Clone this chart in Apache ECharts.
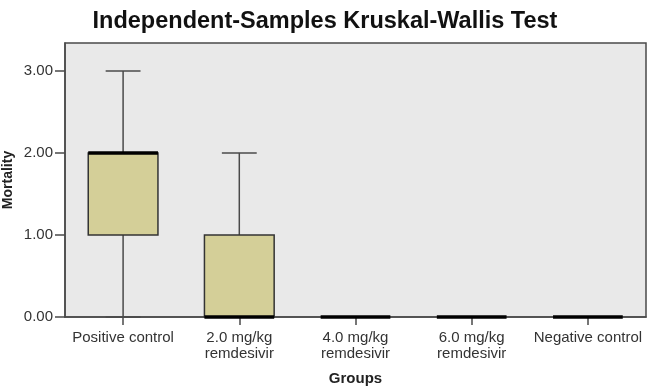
<!DOCTYPE html>
<html>
<head>
<meta charset="utf-8">
<script src="https://cdn.jsdelivr.net/npm/echarts@6/dist/echarts.min.js"></script>
<style>
  html, body { margin: 0; padding: 0; background: #fff; }
  #chart { width: 650px; height: 389px; }
</style>
</head>
<body>
<div id="chart"></div>
<script>
// groups on the x axis
var categories = ["Positive control", "2.0 mg/kg\nremdesivir", "4.0 mg/kg\nremdesivir", "6.0 mg/kg\nremdesivir", "Negative control"];
// box plot values
var minVals = [0, 0, 0, 0, 0];
var q1Vals = [1, 0, 0, 0, 0];
var medianVals = [2, 0, 0, 0, 0];
var q3Vals = [2, 1, 0, 0, 0];
var maxVals = [3, 2, 0, 0, 0];

var FONT = "Liberation Sans";
var boxData = categories.map(function (c, i) {
  return [i, minVals[i], q1Vals[i], medianVals[i], q3Vals[i], maxVals[i]];
});

var chart = echarts.init(document.getElementById("chart"));

function renderBox(params, api) {
  var idx = api.value(0);
  var pMin = api.coord([idx, api.value(1)]);
  var pQ1 = api.coord([idx, api.value(2)]);
  var pMed = api.coord([idx, api.value(3)]);
  var pQ3 = api.coord([idx, api.value(4)]);
  var pMax = api.coord([idx, api.value(5)]);
  var x = pMed[0];
  var bw = api.size([1, 0])[0] * 0.6;
  var cw = bw / 2;
  var line = { stroke: "#4a4a4a", lineWidth: 1.5 };
  var children = [];
  if (api.value(5) > api.value(4)) {
    children.push({ type: "line", shape: { x1: x, y1: pQ3[1], x2: x, y2: pMax[1] }, style: line });
    children.push({ type: "line", shape: { x1: x - cw / 2, y1: pMax[1], x2: x + cw / 2, y2: pMax[1] }, style: line });
  }
  if (api.value(1) < api.value(2)) {
    children.push({ type: "line", shape: { x1: x, y1: pQ1[1], x2: x, y2: pMin[1] }, style: line });
    children.push({ type: "line", shape: { x1: x - cw / 2, y1: pMin[1], x2: x + cw / 2, y2: pMin[1] }, style: line });
  }
  if (api.value(4) > api.value(2)) {
    children.push({
      type: "rect",
      shape: { x: x - bw / 2, y: pQ3[1], width: bw, height: pQ1[1] - pQ3[1] },
      style: { fill: "#d4cf98", stroke: "#333", lineWidth: 1.5 }
    });
  }
  children.push({
    type: "line",
    shape: { x1: x - bw / 2, y1: pMed[1], x2: x + bw / 2, y2: pMed[1] },
    style: { stroke: "#000", lineWidth: 3.5 }
  });
  return { type: "group", children: children };
}

var option = {
  backgroundColor: "#fff",
  animation: false,
  title: {
    text: "Independent-Samples Kruskal-Wallis Test",
    left: "center",
    top: 5,
    textStyle: { fontFamily: FONT, fontSize: 23.5, fontWeight: "bold", color: "#111" }
  },
  grid: {
    left: 65,
    right: 4,
    top: 43,
    bottom: 72,
    outerBoundsMode: "none",
    show: true,
    backgroundColor: "#e9e9e9",
    borderColor: "#4a4a4a",
    borderWidth: 1.5
  },
  xAxis: {
    type: "category",
    data: categories,
    name: "Groups",
    nameLocation: "middle",
    nameGap: 54,
    nameMoveOverlap: false,
    nameTextStyle: { fontFamily: FONT, fontSize: 15, fontWeight: "bold", color: "#222" },
    axisLine: { show: true, lineStyle: { color: "#4a4a4a", width: 1.5 } },
    axisTick: { show: true, alignWithLabel: true, length: 8, lineStyle: { color: "#4a4a4a", width: 1.5 } },
    axisLabel: { fontFamily: FONT, fontSize: 15, color: "#333", margin: 13, lineHeight: 16, interval: 0 },
    splitLine: { show: false }
  },
  yAxis: {
    type: "value",
    min: 0,
    max: 3.34,
    interval: 1,
    name: "Mortality",
    nameLocation: "middle",
    nameGap: 50,
    nameMoveOverlap: false,
    nameTextStyle: { fontFamily: FONT, fontSize: 14, fontWeight: "bold", color: "#222" },
    axisLine: { show: true, lineStyle: { color: "#4a4a4a", width: 1.5 } },
    axisTick: { show: true, length: 10, lineStyle: { color: "#4a4a4a", width: 1.5 } },
    axisLabel: {
      fontFamily: FONT, fontSize: 15, color: "#333", margin: 12, showMaxLabel: false,
      formatter: function (v) { return v.toFixed(2); }
    },
    splitLine: { show: false }
  },
  series: [
    {
      type: "custom",
      renderItem: renderBox,
      encode: { x: 0, y: [1, 2, 3, 4, 5] },
      data: boxData,
      clip: false,
      z: 10
    }
  ]
};

chart.setOption(option);
window.addEventListener("resize", function () {
  chart.resize();
});
</script>
</body>
</html>
